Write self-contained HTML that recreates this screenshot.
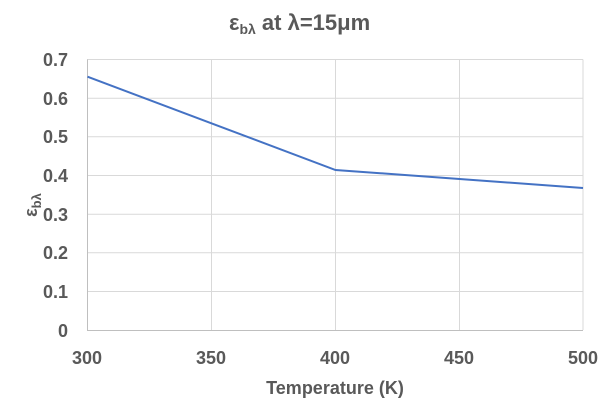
<!DOCTYPE html>
<html><head><style>
html,body{margin:0;padding:0;background:#fff;}
svg{display:block;}
text{font-family:"Liberation Sans",sans-serif;font-weight:bold;fill:#595959;}
</style></head><body>
<svg width="609" height="412" viewBox="0 0 609 412">
<g stroke="#d9d9d9" stroke-width="1">
<line x1="87" y1="59.5" x2="583" y2="59.5"/>
<line x1="87" y1="98.2" x2="583" y2="98.2"/>
<line x1="87" y1="136.8" x2="583" y2="136.8"/>
<line x1="87" y1="175.5" x2="583" y2="175.5"/>
<line x1="87" y1="214.2" x2="583" y2="214.2"/>
<line x1="87" y1="252.8" x2="583" y2="252.8"/>
<line x1="87" y1="291.5" x2="583" y2="291.5"/>
<line x1="211.5" y1="59.5" x2="211.5" y2="330"/>
<line x1="335.5" y1="59.5" x2="335.5" y2="330"/>
<line x1="459.5" y1="59.5" x2="459.5" y2="330"/>
<line x1="583" y1="59.5" x2="583" y2="330"/>
</g>
<g stroke="#bfbfbf" stroke-width="1">
<line x1="87.5" y1="59.5" x2="87.5" y2="330"/>
<line x1="87" y1="330.5" x2="583" y2="330.5"/>
</g>
<polyline fill="none" stroke="#4472c4" stroke-width="2" points="87.5,76.7 335.5,170 459.5,179 583,188"/>
<g font-size="18" text-anchor="end">
<text x="68" y="66">0.7</text>
<text x="68" y="105">0.6</text>
<text x="68" y="143">0.5</text>
<text x="68" y="182">0.4</text>
<text x="68" y="221">0.3</text>
<text x="68" y="259">0.2</text>
<text x="68" y="298">0.1</text>
<text x="68" y="337">0</text>
</g>
<g font-size="18" text-anchor="middle">
<text x="87" y="364">300</text>
<text x="211" y="364">350</text>
<text x="335" y="364">400</text>
<text x="459" y="364">450</text>
<text x="583" y="364">500</text>
</g>
<text x="335" y="394" font-size="18" text-anchor="middle">Temperature (K)</text>
<text x="229" y="30" font-size="22">ε<tspan font-size="14" dy="4">bλ</tspan><tspan dy="-4"> at λ=15μm</tspan></text>
<text transform="translate(37,205) rotate(-90)" font-size="18" text-anchor="middle">ε<tspan font-size="13" dy="4">bλ</tspan></text>
</svg>
</body></html>
